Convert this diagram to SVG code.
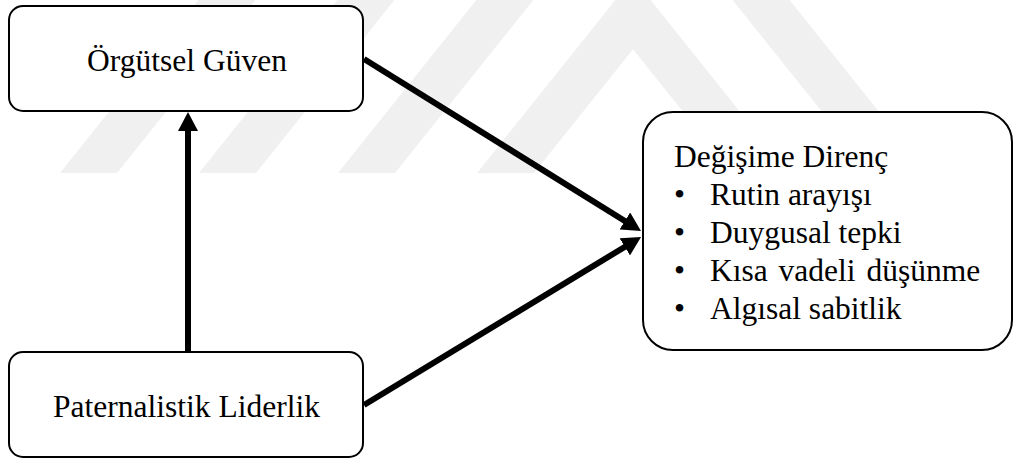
<svg xmlns="http://www.w3.org/2000/svg" width="1015" height="459" viewBox="0 0 1015 459">
  <style>
    .box { fill: #ffffff; stroke: #000000; stroke-width: 2; }
    .lbl { font-family: 'Liberation Serif', 'Times New Roman', 'DejaVu Serif', serif; font-size: 31.5px; fill: #000000; }
    .conn { stroke: #000000; stroke-width: 6; fill: none; marker-end: url(#arrow); }
    .wm { fill: #f0f0f0; }
  </style>
  <defs>
    <marker id="arrow" markerUnits="userSpaceOnUse" markerWidth="19" markerHeight="20" refX="9" refY="10" orient="auto" viewBox="0 0 19 20">
      <path d="M0,0 L19,10 L0,20 z" fill="#000000"/>
    </marker>
  </defs>
  <rect width="1015" height="459" fill="#ffffff"/>

  <g id="watermark">
    <polygon class="wm" points="60,173 117,173 255.4,0 198.4,0"/>
    <polygon class="wm" points="199,173 256,173 394.4,0 337.4,0"/>
    <polygon class="wm" points="338,173 395,173 533.4,0 476.4,0"/>
    <polygon class="wm" points="477,173 534,173 633,49.25 732,173 789,173 650.6,0 615.4,0"/>
    <polygon class="wm" points="871,173 928,173 789.6,0 732.6,0"/>
  </g>

  <g id="connectors">
    <line class="conn" x1="188" y1="352" x2="188" y2="122"/>
    <line class="conn" x1="364" y1="59" x2="632.5" y2="225.7"/>
    <line class="conn" x1="364" y1="405" x2="632.5" y2="242.2"/>
  </g>

  <g id="node-orgutsel-guven">
    <rect class="box" x="9" y="6" width="354" height="105" rx="14" ry="14"/>
    <text class="lbl" x="187" y="71" text-anchor="middle">Örgütsel Güven</text>
  </g>

  <g id="node-paternalistik-liderlik">
    <rect class="box" x="9" y="352" width="354" height="105" rx="14" ry="14"/>
    <text class="lbl" x="186.5" y="417" text-anchor="middle">Paternalistik Liderlik</text>
  </g>

  <g id="node-degisime-direnc">
    <rect class="box" x="643" y="112" width="369" height="238" rx="30" ry="30"/>
    <text class="lbl" x="674" y="167">Değişime Direnç</text>
    <text class="lbl" x="674" y="205">•</text>
    <text class="lbl" x="710" y="205">Rutin arayışı</text>
    <text class="lbl" x="674" y="243">•</text>
    <text class="lbl" x="710" y="243">Duygusal tepki</text>
    <text class="lbl" x="674" y="281">•</text>
    <text class="lbl" x="710" y="281" word-spacing="3">Kısa vadeli düşünme</text>
    <text class="lbl" x="674" y="319">•</text>
    <text class="lbl" x="710" y="319">Algısal sabitlik</text>
  </g>
</svg>
